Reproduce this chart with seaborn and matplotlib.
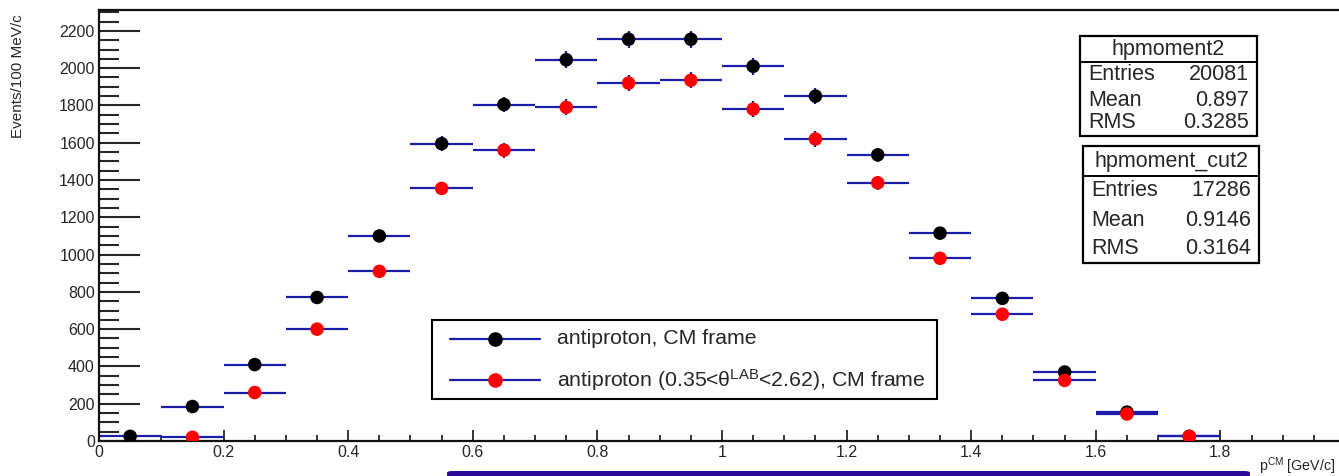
import numpy as np
import pandas as pd
import matplotlib
matplotlib.use("Agg")
import matplotlib.pyplot as plt
import seaborn as sns
from matplotlib.patches import Rectangle, FancyBboxPatch
from matplotlib.lines import Line2D
from matplotlib.ticker import MultipleLocator

# ---------------- data ----------------
bin_centers = [0.05, 0.15, 0.25, 0.35, 0.45, 0.55, 0.65, 0.75, 0.85,
               0.95, 1.05, 1.15, 1.25, 1.35, 1.45, 1.55, 1.65, 1.75]
all_counts = [25, 185, 410, 770, 1100, 1595, 1805, 2045, 2155,
              2155, 2010, 1850, 1535, 1115, 765, 370, 155, 25]
cut_counts = [np.nan, 20, 260, 600, 910, 1355, 1560, 1790, 1920,
              1935, 1780, 1620, 1385, 980, 680, 325, 145, 25]
series_names = ["antiproton, CM frame",
                r"antiproton (0.35<$\theta^{\rm LAB}$<2.62), CM frame"]
series_colors = ["black", "red"]
stat1 = ("hpmoment2", [("Entries", "20081"), ("Mean", "0.897"), ("RMS", "0.3285")])
stat2 = ("hpmoment_cut2", [("Entries", "17286"), ("Mean", "0.9146"), ("RMS", "0.3164")])
bin_half_width = 0.05

# ---------------- style ----------------
sns.set_theme(style="ticks")
plt.rcParams['font.family'] = ['Liberation Sans', 'DejaVu Sans']
plt.rcParams['mathtext.fontset'] = 'custom'
plt.rcParams['mathtext.rm'] = 'Liberation Sans'
plt.rcParams['mathtext.it'] = 'Liberation Sans:italic'
plt.rcParams['mathtext.default'] = 'regular'

W, H = 1339, 476
fig = plt.figure(figsize=(W / 100, H / 100), dpi=100)
fig.patch.set_facecolor("white")

def fx(x):
    return x / W

def fy(y):
    return 1 - y / H

px_per_unit = 623.0
x_max = 1.99
ax = fig.add_axes([fx(99), fy(441), x_max * px_per_unit / W, (441 - 10) / H])
ax.set_facecolor("white")

df = pd.DataFrame({
    "p": bin_centers * 2,
    "counts": all_counts + cut_counts,
    "series": [series_names[0]] * len(bin_centers) + [series_names[1]] * len(bin_centers),
})

blue = "#1c1caa"
for name in series_names:
    sub = df[df["series"] == name].dropna()
    ax.errorbar(sub["p"], sub["counts"], xerr=bin_half_width,
                yerr=np.sqrt(sub["counts"]), fmt="none", ecolor=blue,
                elinewidth=1.6, capsize=0, zorder=2)

sns.scatterplot(data=df.dropna(), x="p", y="counts", hue="series",
                palette=dict(zip(series_names, series_colors)),
                s=95, edgecolor=None, linewidth=0, legend=False, ax=ax, zorder=3)

ax.set_xlim(0, x_max)
ax.set_ylim(0, 2312)
ax.set_xlabel("")
ax.set_ylabel("")

ax.xaxis.set_major_locator(MultipleLocator(0.2))
ax.xaxis.set_minor_locator(MultipleLocator(0.05))
ax.yaxis.set_major_locator(MultipleLocator(200))
ax.yaxis.set_minor_locator(MultipleLocator(50))
ax.xaxis.set_major_formatter(matplotlib.ticker.FuncFormatter(
    lambda v, p: "0" if abs(v) < 1e-9 else ("1" if abs(v - 1) < 1e-9 else f"{v:g}")))

ax.tick_params(axis="y", which="major", direction="in", length=29.5, width=1.5,
               labelsize=11.5, pad=3, right=False)
ax.tick_params(axis="y", which="minor", direction="in", length=14.5, width=1.5, right=False)
ax.tick_params(axis="x", which="major", direction="in", length=8, width=1.3,
               labelsize=11.5, pad=3, top=False)
ax.tick_params(axis="x", which="minor", direction="in", length=4.3, width=1.3, top=False)
for s in ax.spines.values():
    s.set_linewidth(1.6)
    s.set_color("#111111")
ax.spines["right"].set_visible(False)

# axis titles
fig.text(fx(18), fy(14), "Events/100 MeV/c", rotation=90, ha="center", va="top",
         fontsize=11)
fig.text(fx(1259), fy(471), r"p$^{\rm CM}$ [GeV/c]", ha="left", va="baseline",
         fontsize=10.3)

# legend (drawn as a ROOT-style box)
fig.patches.append(Rectangle((fx(432), fy(399)), fx(937) - fx(432), fy(320) - fy(399),
                             transform=fig.transFigure, facecolor="white",
                             edgecolor="black", lw=1.5, zorder=5))
for name, col, yy in zip(series_names, series_colors, [339, 380]):
    fig.lines.append(Line2D([fx(450), fx(540)], [fy(yy), fy(yy)],
                            transform=fig.transFigure, color=blue, lw=1.6, zorder=6))
    fig.lines.append(Line2D([fx(495)], [fy(yy)], transform=fig.transFigure,
                            marker="o", markersize=9.5, markerfacecolor=col,
                            markeredgecolor=col, lw=0, zorder=7))
    fig.text(fx(557), fy(yy), name, ha="left", va="center", fontsize=15.3, zorder=7)

# stat boxes
def stat_box(x0, x1, y0, ysep, y1, title, rows, row_ys):
    fig.patches.append(Rectangle((fx(x0), fy(y1)), fx(x1) - fx(x0), fy(y0) - fy(y1),
                                 transform=fig.transFigure, facecolor="white",
                                 edgecolor="black", lw=1.6, zorder=5))
    fig.lines.append(Line2D([fx(x0), fx(x1)], [fy(ysep), fy(ysep)],
                            transform=fig.transFigure, color="black", lw=1.4, zorder=6))
    fig.text(fx((x0 + x1) / 2), fy((y0 + ysep) / 2 + 1), title, ha="center",
             va="center", fontsize=15.5, zorder=7)
    for (k, v), yy in zip(rows, row_ys):
        fig.text(fx(x0 + 8), fy(yy), k, ha="left", va="center", fontsize=15.5, zorder=7)
        fig.text(fx(x1 - 8), fy(yy), v, ha="right", va="center", fontsize=15.5, zorder=7)

stat_box(1080, 1257, 36, 62, 136, stat1[0], stat1[1], [75, 100, 123])
stat_box(1083, 1259, 146, 176, 263, stat2[0], stat2[1], [191, 220, 248])

# cropped title box at bottom
fig.patches.append(FancyBboxPatch((fx(447), fy(480)), fx(1250) - fx(447), fy(471) - fy(480),
                                  boxstyle="round,pad=0,rounding_size=0.004",
                                  transform=fig.transFigure, facecolor="#2c0a98",
                                  edgecolor="#2c0a98", lw=0, zorder=5))

fig.savefig("out.png", dpi=100)
